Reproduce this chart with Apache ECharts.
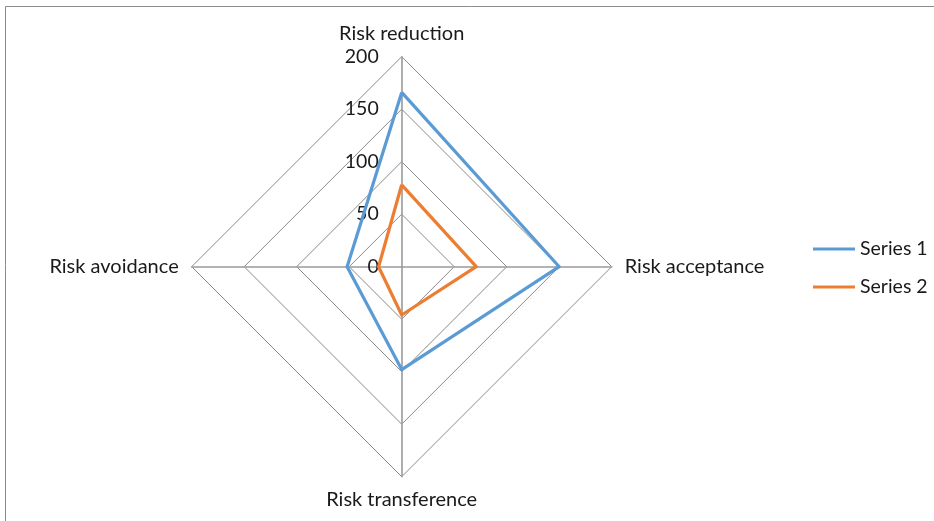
<!DOCTYPE html>
<html>
<head>
<meta charset="utf-8">
<script src="https://cdn.jsdelivr.net/npm/echarts@6/dist/echarts.min.js"></script>
<style>
  html, body { margin: 0; padding: 0; background: #fff; }
  #chart { width: 934px; height: 521px; }
</style>
</head>
<body>
<div id="chart"></div>
<script>
// Risk response categories, listed counter-clockwise from the top
// (the radar lays indicators out counter-clockwise)
const categories = ['Risk reduction', 'Risk avoidance', 'Risk transference', 'Risk acceptance'];
const series1 = [166, 52, 98, 150];
const series2 = [78, 22, 46, 71];
const seriesNames = ['Series 1', 'Series 2'];
const tickValues = [0, 50, 100, 150, 200];
const axisMax = 200;

const FONT = 'Lato, "Open Sans", sans-serif';
const CENTER = [401.7, 266.7];
const RADIUS = 210;

const chart = echarts.init(document.getElementById('chart'));
chart.setOption({
  animation: false,
  backgroundColor: '#fff',
  color: ['#5B9BD5', '#ED7D31'],
  graphic: [{
    type: 'rect',
    shape: { x: 5.5, y: 6.5, width: 940, height: 530 },
    style: { fill: 'none', stroke: '#8c8c8c', lineWidth: 1 },
    silent: true
  }],
  legend: {
    orient: 'vertical',
    left: 808,
    top: 234,
    itemWidth: 42,
    itemHeight: 3,
    itemGap: 18,
    icon: 'rect',
    textStyle: { fontFamily: FONT, fontSize: 19.5, color: '#1a1a1a', padding: [0, 0, 0, 0] },
    data: seriesNames
  },
  radar: {
    center: CENTER,
    radius: RADIUS,
    startAngle: 90,
    shape: 'polygon',
    splitNumber: tickValues.length - 1,
    indicator: categories.map(name => ({ name: name, min: 0, max: axisMax })),
    axisName: { color: '#1a1a1a', fontFamily: FONT, fontSize: 20 },
    nameGap: 13,
    axisLine: { lineStyle: { color: '#9a9a9a', width: 1.6 } },
    splitLine: { lineStyle: { color: '#8a8a8a', width: 1 } },
    splitArea: { show: false },
    axisTick: { show: false },
    axisLabel: { show: false }
  },
  // value scale labels shown along the top spoke
  polar: { center: CENTER, radius: RADIUS },
  angleAxis: {
    startAngle: 90, show: false, type: 'value', min: 0, max: 360
  },
  radiusAxis: {
    min: 0, max: axisMax, interval: 50,
    axisLine: { show: false },
    axisTick: { show: false },
    splitLine: { show: false },
    axisLabel: {
      show: true, margin: 23, color: '#1a1a1a',
      fontFamily: FONT, fontSize: 19.5, align: 'right', verticalAlign: 'middle'
    }
  },
  series: [{
    type: 'radar',
    symbol: 'none',
    data: [
      { name: seriesNames[0], value: series1, lineStyle: { color: '#5B9BD5', width: 3.2 } },
      { name: seriesNames[1], value: series2, lineStyle: { color: '#ED7D31', width: 3.2 } }
    ]
  }]
});
</script>
</body>
</html>
